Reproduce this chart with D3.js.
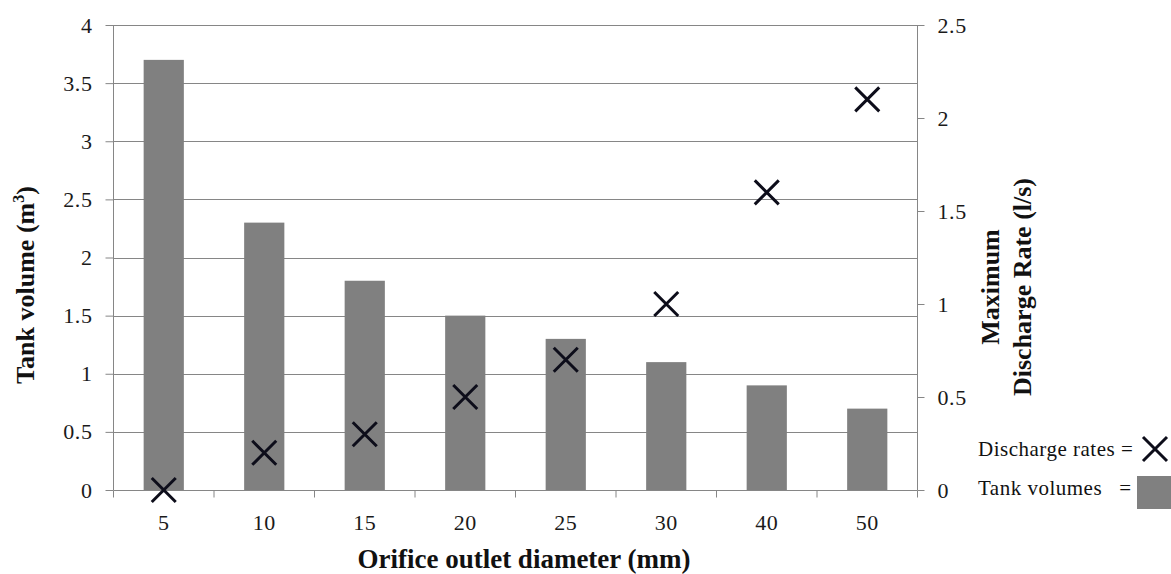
<!DOCTYPE html>
<html><head><meta charset="utf-8">
<script src="https://cdn.jsdelivr.net/npm/d3@7"></script>
<style>body{margin:0;background:#fff}svg{display:block}</style>
</head><body><svg id="c" width="1171" height="574"></svg>
<script>
const categories = ["5","10","15","20","25","30","40","50"];
const tankVolumes = [3.7, 2.3, 1.8, 1.5, 1.3, 1.1, 0.9, 0.7];
const dischargeRates = [0, 0.2, 0.3, 0.5, 0.7, 1.0, 1.6, 2.1];
const leftTicks = [0,0.5,1,1.5,2,2.5,3,3.5,4];
const rightTicks = [0,0.5,1,1.5,2,2.5];

const FONT = "'Liberation Serif', 'Times New Roman', Tinos, 'DejaVu Serif', serif";
const svg = d3.select("#c");
const L = 113.5, R = 917.5, T = 25, B = 490;
const x = d3.scaleBand().domain(categories).range([L, R]).paddingInner(0.6).paddingOuter(0.3);
const xOuter = d3.scaleBand().domain(categories).range([L, R]);
const yL = d3.scaleLinear().domain([0,4]).range([B, T]);
const yR = d3.scaleLinear().domain([0,2.5]).range([B, T]);
const axisCol = "#868686";

svg.append("g").selectAll("line").data(leftTicks.filter(d=>d>0)).join("line")
  .attr("x1", L).attr("x2", R).attr("y1", d=>Math.round(yL(d))+0.5).attr("y2", d=>Math.round(yL(d))+0.5)
  .attr("stroke", axisCol).attr("stroke-width",1);

svg.append("g").selectAll("rect").data(tankVolumes).join("rect")
  .attr("x", (d,i)=>x(categories[i])).attr("width", x.bandwidth())
  .attr("y", d=>yL(d)).attr("height", d=>B - yL(d)).attr("fill", "#808080");

const gl = svg.append("g").attr("transform", `translate(${L},0)`)
  .call(d3.axisLeft(yL).tickValues(leftTicks).tickSize(8).tickPadding(13).tickFormat(d3.format("")));
const gr = svg.append("g").attr("transform", `translate(${R},0)`)
  .call(d3.axisRight(yR).tickValues(rightTicks).tickSize(7).tickPadding(13).tickFormat(d3.format("")));
[gl, gr].forEach(g=>{
  g.attr("font-family", FONT).attr("font-size", 22);
  g.select(".domain").attr("stroke", axisCol).attr("d", `M0,${T}V${B}`);
  g.selectAll(".tick line").attr("stroke", axisCol);
  g.selectAll(".tick text").attr("fill", "#1a1a1a").attr("letter-spacing", 0.6);
});

const gx = svg.append("g").attr("transform", `translate(0,${B+0.5})`).attr("font-family", FONT);
gx.append("line").attr("x1", L).attr("x2", R).attr("stroke", axisCol);
const boundaries = categories.map(c=>xOuter(c)).concat([R]);
gx.selectAll("line.tk").data(boundaries).join("line").attr("class","tk")
  .attr("x1", d=>d).attr("x2", d=>d).attr("y1",0).attr("y2",7).attr("stroke", axisCol);
gx.selectAll("text").data(categories).join("text")
  .attr("x", d=>xOuter(d)+xOuter.bandwidth()/2).attr("y", 39).attr("text-anchor","middle")
  .attr("font-size", 22).attr("letter-spacing", 0.6).attr("fill","#1a1a1a").text(d=>d);

const s = 12;
svg.append("g").selectAll("path").data(dischargeRates).join("path")
  .attr("transform", (d,i)=>`translate(${xOuter(categories[i])+xOuter.bandwidth()/2},${yR(d)})`)
  .attr("d", `M${-s},${-s}L${s},${s}M${-s},${s}L${s},${-s}`)
  .attr("stroke", "#0d0d1a").attr("stroke-width", 3).attr("fill","none");

const lt = svg.append("text").attr("transform","translate(34,285) rotate(-90)").attr("font-family", FONT)
  .attr("text-anchor","middle").attr("font-size",26).attr("font-weight","bold").attr("fill","#111");
lt.append("tspan").text("Tank volume (m");
lt.append("tspan").attr("font-size",16).attr("dy",-10).text("3");
lt.append("tspan").attr("dy",10).text(")");

const rt = svg.append("text").attr("transform","translate(999,287) rotate(-90)").attr("font-family", FONT)
  .attr("text-anchor","middle").attr("font-size",26).attr("font-weight","bold").attr("fill","#111");
rt.append("tspan").attr("x",0).attr("dy",0).text("Maximum");
rt.append("tspan").attr("x",0).attr("dy",32).text("Discharge Rate (l/s)");

svg.append("text").attr("x", 524).attr("y", 568).attr("text-anchor","middle").attr("font-family", FONT)
  .attr("font-size",27).attr("font-weight","bold").attr("fill","#111").text("Orifice outlet diameter (mm)");

svg.append("text").attr("x",978).attr("y",456).attr("font-family", FONT).attr("font-size",21).attr("letter-spacing",0.5).attr("fill","#111").text("Discharge rates =");
svg.append("path").attr("transform","translate(1155,449)")
  .attr("d", `M${-s},${-s}L${s},${s}M${-s},${s}L${s},${-s}`)
  .attr("stroke", "#0d0d1a").attr("stroke-width", 3);
svg.append("text").attr("x",978).attr("y",495).attr("font-family", FONT).attr("font-size",21).attr("letter-spacing",0.5).attr("fill","#111").attr("xml:space","preserve").text("Tank volumes   =");
svg.append("rect").attr("x",1137).attr("y",476).attr("width",34).attr("height",33).attr("fill","#808080");
</script></body></html>
